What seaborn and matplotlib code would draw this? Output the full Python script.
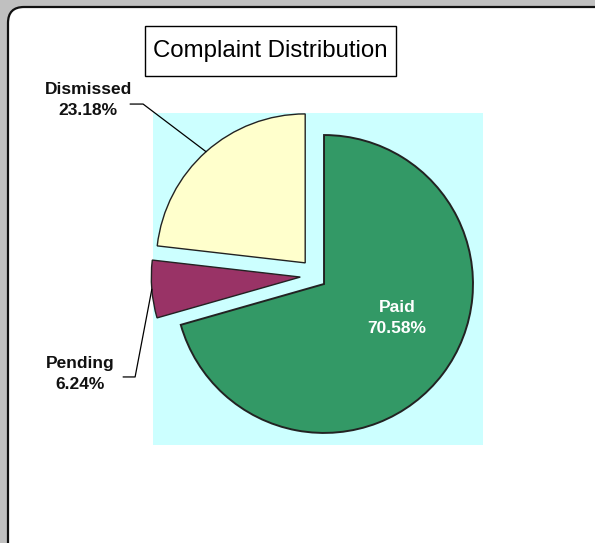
import numpy as np
import matplotlib
matplotlib.use("Agg")
import matplotlib.pyplot as plt
from matplotlib.patches import FancyBboxPatch, Rectangle
import seaborn as sns

sns.set_style("white")
plt.rcParams['font.family'] = ['Liberation Sans', 'DejaVu Sans']

# data
categories = ['Paid', 'Pending', 'Dismissed']
shares = [70.58, 6.24, 23.18]
slice_colors = ['#339966', '#993366', '#FFFFCC']
explode = [0.0, 0.165, 0.19]
title = 'Complaint Distribution'

W, H = 595, 543
fig = plt.figure(figsize=(W / 100, H / 100), dpi=100)
fig.patch.set_facecolor('#C0C0C0')

# background panel in pixel coords
bg = fig.add_axes([0, 0, 1, 1])
bg.set_xlim(0, W)
bg.set_ylim(H, 0)
bg.axis('off')
bg.add_patch(FancyBboxPatch((8, 7), 650, 600, boxstyle='round,pad=0,rounding_size=16',
                            facecolor='white', edgecolor='#111111', lw=1.6))
bg.add_patch(Rectangle((145, 26), 251, 50, facecolor='white', edgecolor='black', lw=1.0))
bg.text(270.5, 51, title, ha='center', va='center', fontsize=17.3, color='black')

# pie axes (cyan plot area)
ax = fig.add_axes([153 / W, 1 - 445 / H, 330 / W, 332 / H])
wedges, _ = ax.pie(shares, colors=slice_colors, explode=explode, startangle=90,
                   counterclock=False, radius=1.0, frame=True,
                   wedgeprops=dict(edgecolor='#222222', linewidth=1.0))
ax.set_facecolor('#CCFFFF')
for s in ax.spines.values():
    s.set_visible(False)
ax.set_xticks([])
ax.set_yticks([])
ax.set_xlim(-1.148, 1.067)
ax.set_ylim(-1.081, 1.148)

# the old chart pulls the small slice out a bit higher than its mid angle
cx, cy = wedges[1].center
wedges[1].set_center((cx + 0.005, cy + 0.06))

# darker rim on the big slice (the old chart's shadowed edge)
wedges[0].set_linewidth(1.4)

def px(x, y):
    # pixel position -> data coords of the pie axes
    return (x - 324) / 149, (284 - y) / 149

def rim_point(w):
    mid = np.deg2rad((w.theta1 + w.theta2) / 2)
    cx, cy = w.center
    return cx + w.r * np.cos(mid), cy + w.r * np.sin(mid)

lab_font = dict(fontsize=12.5, fontweight='bold', ha='center', va='center',
                linespacing=1.45)

# Dismissed
w = wedges[2]
ax_, ay_ = rim_point(w)
e1 = px(130, 104)
e2 = px(143, 104)
ax.plot([e1[0], e2[0], ax_], [e1[1], e2[1], ay_], color='black', lw=0.9, clip_on=False)
tx, ty = px(88, 100)
ax.text(tx, ty, f'{categories[2]}\n{shares[2]:.2f}%', color='#111111', clip_on=False, **lab_font)

# Pending
w = wedges[1]
ax_, ay_ = rim_point(w)
e1 = px(123, 377)
e2 = px(135, 377)
ax.plot([e1[0], e2[0], ax_], [e1[1], e2[1], ay_], color='black', lw=0.9, clip_on=False)
tx, ty = px(80, 374)
ax.text(tx, ty, f'{categories[1]}\n{shares[1]:.2f}%', color='#111111', clip_on=False, **lab_font)

# Paid
tx, ty = px(397, 318)
ax.text(tx, ty, f'{categories[0]}\n{shares[0]:.2f}%', color='white', **lab_font)

fig.savefig('out.png', dpi=100, facecolor=fig.get_facecolor())
